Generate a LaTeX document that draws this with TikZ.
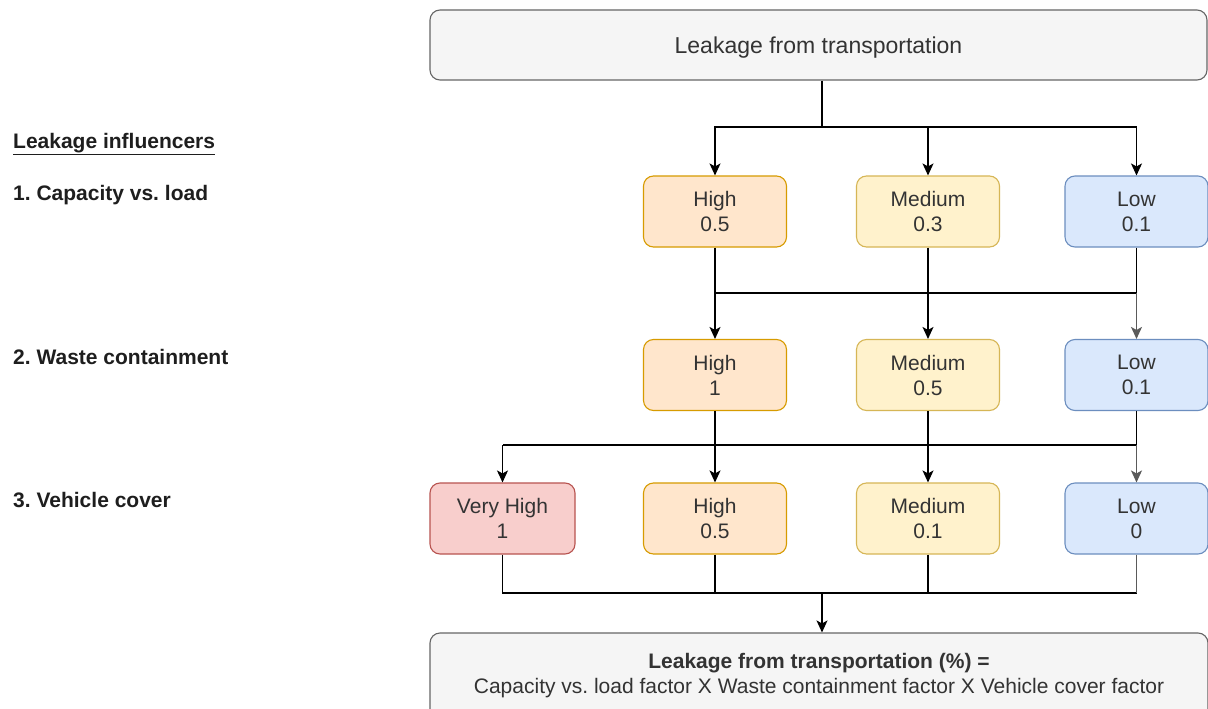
\documentclass[tikz,border=0pt]{standalone}
\usepackage{fontspec}
\setmainfont{Liberation Sans}
\usetikzlibrary{arrows.meta,calc}
\definecolor{orfill}{HTML}{FFE6CC}\definecolor{ordraw}{HTML}{D79B00}
\definecolor{yefill}{HTML}{FFF2CC}\definecolor{yedraw}{HTML}{D6B656}
\definecolor{blfill}{HTML}{DAE8FC}\definecolor{bldraw}{HTML}{6C8EBF}
\definecolor{rdfill}{HTML}{F8CECC}\definecolor{rddraw}{HTML}{B85450}
\definecolor{gyfill}{HTML}{F5F5F5}\definecolor{gydraw}{HTML}{666666}
\definecolor{txt}{HTML}{333333}
\definecolor{labtxt}{HTML}{1E1E1E}
\definecolor{lowline}{HTML}{5A5A5A}
\begin{document}
\frenchspacing
\begin{tikzpicture}[x=1pt,y=-1pt,
  box/.style={draw, rounded corners=10pt, line width=1.1pt, minimum width=143pt,
    minimum height=71pt, align=center, inner sep=0pt, text=txt,
    font=\fontsize{21}{25}\selectfont},
  orbox/.style={box, fill=orfill, draw=ordraw},
  yebox/.style={box, fill=yefill, draw=yedraw},
  blbox/.style={box, fill=blfill, draw=bldraw},
  rdbox/.style={box, fill=rdfill, draw=rddraw},
  gybox/.style={box, fill=gyfill, draw=gydraw},
  lab/.style={anchor=west, inner sep=0pt, text=labtxt, font=\fontsize{21}{25}\selectfont\bfseries},
  conn/.style={line width=1.5pt, draw=black},
  arr/.style={conn, -{Stealth[length=12pt,width=11pt,inset=3pt]}}]
\useasboundingbox (0,0) rectangle (1208,709);
\fill[white] (0,0) rectangle (1208,709);
\clip (0,0) rectangle (1208,709);

% left labels
\node[lab] (lt) at (13,144) {\underline{Leakage influencers}};
\node[lab] (l1t) at (13,195) {1. Capacity vs. load};
\node[lab] (l2t) at (13,357) {2. Waste containment};
\node[lab] (l3t) at (13,500) {3. Vehicle cover};

% boxes
\node[gybox, minimum width=777pt, minimum height=70pt, text depth=0pt, font=\fontsize{23}{27}\selectfont] (top) at (818.5,45) {Leakage from transportation};

\node[orbox] (h1) at (715,211.5) {High\\0.5};
\node[yebox] (m1) at (928,211.5) {Medium\\0.3};
\node[blbox] (w1) at (1136.5,211.5) {Low\\0.1};

\node[orbox] (h2) at (715,375) {High\\1};
\node[yebox] (m2) at (928,375) {Medium\\0.5};
\node[blbox] (w2) at (1136.5,375) {Low\\0.1};

\node[rdbox, minimum width=145pt] (v3) at (502.5,518.5) {Very High\\1};
\node[orbox] (h3) at (715,518.5) {High\\0.5};
\node[yebox] (m3) at (928,518.5) {Medium\\0.1};
\node[blbox] (w3) at (1136.5,518.5) {Low\\0};

\node[gybox, minimum width=778pt, minimum height=86pt] (bot) at (819,676)
  {\textbf{Leakage from transportation (\%) =}\\Capacity vs. load factor X Waste containment factor X Vehicle cover factor};

% bus coordinates
\coordinate (b0) at (822,127);
\coordinate (b1) at (0,293);
\coordinate (b2) at (0,445);
\coordinate (b3) at (822,593);

% top -> row 1
\draw[conn] (top.south -| b0) -- (b0);
\draw[arr] (b0) -| (h1.north);
\draw[arr] (b0) -| (w1.north);
\draw[arr] (m1.north |- b0) -- (m1.north);

% row 1 -> row 2
\draw[conn] (w1.south) -- (w1.south |- b1) -- (h1.south |- b1);
\draw[arr] (h1.south) -- (h2.north);
\draw[arr] (m1.south) -- (m2.north);
\draw[arr, draw=lowline] (w1.south |- b1) -- (w2.north);

% row 2 -> row 3
\draw[conn] (w2.south) -- (w2.south |- b2) -- (v3.north |- b2);
\draw[arr] (v3.north |- b2) -- (v3.north);
\draw[arr] (h2.south) -- (h3.north);
\draw[arr] (m2.south) -- (m3.north);
\draw[arr, draw=lowline] (w2.south |- b2) -- (w3.north);

% row 3 -> bottom
\draw[conn] (v3.south) -- (v3.south |- b3) -- (w3.south |- b3);
\draw[conn] (h3.south) -- (h3.south |- b3);
\draw[conn] (m3.south) -- (m3.south |- b3);
\draw[conn, draw=lowline] (w3.south) -- (w3.south |- b3);
\draw[arr] (b3) -- (bot.north -| b3);
\end{tikzpicture}
\end{document}
